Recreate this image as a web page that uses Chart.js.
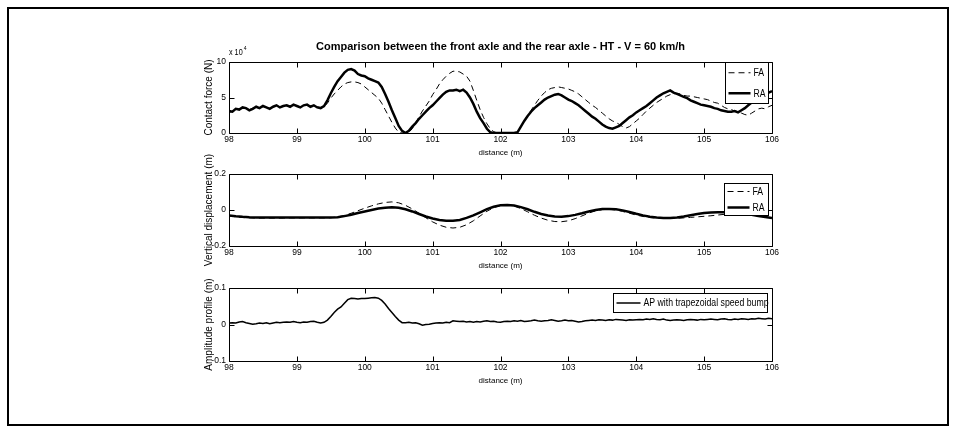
<!DOCTYPE html>
<html>
<head>
<meta charset="utf-8">
<script src="https://cdn.jsdelivr.net/npm/chart.js@4.4.1/dist/chart.umd.min.js"></script>
<style>
  html, body { margin: 0; padding: 0; background: #fff; }
  body { width: 957px; height: 434px; position: relative; overflow: hidden; }
  #frame { position: absolute; left: 7px; top: 7px; width: 942px; height: 419px; border: 2px solid #000; box-sizing: border-box; }
  canvas { position: absolute; left: 200px; }
</style>
</head>
<body>
<div id="frame"></div>
<canvas id="force" width="590" height="131" style="top:30px"></canvas>
<canvas id="disp" width="590" height="124" style="top:150px"></canvas>
<canvas id="profile" width="590" height="119" style="top:270px"></canvas>
<script>
// sampling: distance (m), one value every 0.05 m (force, profile) or 0.1 m (displacement)
const distStart = 98;
const forceStep = 0.05;
const dispStep = 0.1;

// contact force, x 10^4 N
const forceFA = [
  2.9,3.0,3.3,3.4,3.5,3.4,3.3,3.5,3.6,3.5, 3.7,3.6,3.5,3.6,3.8,3.7,3.8,3.8,3.8,3.9,
  3.8,3.7,3.8,3.9,3.8,3.8,3.7,3.6,3.7,4.2, 4.9,5.5,6.0,6.5,6.9,7.1,7.2,7.2,7.1,6.9,
  6.5,6.1,5.7,5.3,4.9,4.2,3.3,2.4,1.5,0.7, 0.1,0.0,0.0,0.1,0.6,1.4,2.3,3.1,3.8,4.5,
  5.4,6.1,6.9,7.5,8.0,8.4,8.7,8.7,8.6,8.3, 8.0,7.3,6.0,4.6,3.3,2.2,1.3,0.6,0.2,0.0,
  0.0,0.0,0.0,0.0,0.0,0.1,0.9,1.7,2.5,3.2, 3.9,4.6,5.2,5.7,6.1,6.3,6.4,6.5,6.4,6.3,
  6.2,6.0,5.8,5.5,5.1,4.7,4.3,3.9,3.6,3.2, 2.8,2.4,2.0,1.7,1.5,1.2,0.9,0.7,0.9,1.3,
  1.7,2.1,2.6,3.1,3.5,3.9,4.3,4.6,4.9,5.2, 5.4,5.5,5.6,5.5,5.3,5.2,5.2,5.1,5.0,4.9,
  4.8,4.7,4.5,4.3,4.2,3.9,3.6,3.4,3.3,3.1, 3.0,2.8,2.6,2.5,2.8,3.1,3.4,3.5,3.4,3.7,
  3.9
];
const forceRA = [
  3.1,3.0,3.4,3.3,3.6,3.5,3.2,3.4,3.7,3.5, 3.8,3.6,3.4,3.7,3.9,3.6,3.8,3.9,3.7,4.0,
  3.8,3.6,3.9,4.0,3.7,3.9,3.6,3.5,3.8,4.6, 5.6,6.5,7.3,7.9,8.5,8.9,9.0,8.8,8.3,8.1,
  8.0,7.7,7.5,7.3,7.1,6.5,5.5,4.4,3.2,2.1, 1.0,0.3,0.0,0.3,0.9,1.4,2.0,2.5,3.0,3.5,
  3.9,4.4,4.9,5.4,5.8,6.0,6.0,6.1,5.9,6.1, 5.7,5.0,4.1,3.0,2.1,1.4,0.6,0.1,0.0,0.0,
  0.0,0.0,0.0,0.0,0.0,0.1,0.9,1.7,2.4,3.0, 3.5,3.9,4.3,4.7,5.0,5.2,5.4,5.5,5.3,5.0,
  4.7,4.5,4.2,3.9,3.5,3.1,2.7,2.3,2.0,1.6, 1.2,0.9,0.7,0.6,0.8,1.0,1.4,1.8,2.2,2.5,
  2.9,3.2,3.5,3.8,4.2,4.6,5.0,5.3,5.6,5.8, 6.0,5.7,5.5,5.3,5.1,4.9,4.6,4.4,4.2,4.0,
  3.9,3.8,3.7,3.5,3.4,3.2,3.1,3.0,3.0,3.1, 2.9,3.2,3.5,3.9,4.3,4.6,5.0,5.2,5.5,5.7,
  5.9
];

// vertical displacement, m
const dispFA = [
  -0.032,-0.038,-0.042,-0.044,-0.045,-0.045,-0.045,-0.045,-0.045,-0.044,
  -0.044,-0.044,-0.044,-0.044,-0.044,-0.043,-0.038,-0.030,-0.018,-0.004,
  0.010,0.023,0.034,0.042,0.045,0.040,0.026,0.006,-0.018,-0.043,
  -0.066,-0.084,-0.096,-0.100,-0.096,-0.082,-0.060,-0.033,-0.007,0.013,
  0.025,0.028,0.022,0.008,-0.010,-0.029,-0.045,-0.057,-0.064,-0.065,
  -0.060,-0.048,-0.033,-0.017,-0.005,0.002,0.004,0.000,-0.008,-0.018,
  -0.028,-0.036,-0.042,-0.045,-0.047,-0.047,-0.046,-0.044,-0.041,-0.038,
  -0.035,-0.032,-0.028,-0.024,-0.020,-0.018,-0.020,-0.025,-0.032,-0.038,
  -0.044
];
const dispRA = [
  -0.030,-0.035,-0.038,-0.040,-0.041,-0.042,-0.042,-0.042,-0.042,-0.042,
  -0.042,-0.042,-0.042,-0.042,-0.042,-0.042,-0.040,-0.034,-0.026,-0.017,
  -0.008,0.000,0.008,0.013,0.015,0.012,0.004,-0.008,-0.022,-0.036,
  -0.047,-0.055,-0.060,-0.060,-0.055,-0.044,-0.030,-0.013,0.005,0.018,
  0.026,0.028,0.025,0.016,0.004,-0.010,-0.022,-0.031,-0.036,-0.037,
  -0.034,-0.027,-0.018,-0.008,0.000,0.005,0.006,0.004,-0.002,-0.011,
  -0.021,-0.030,-0.037,-0.042,-0.045,-0.045,-0.042,-0.036,-0.029,-0.022,
  -0.017,-0.014,-0.013,-0.013,-0.015,-0.018,-0.022,-0.027,-0.033,-0.039,
  -0.045
];

// amplitude profile, m
const profileAP = [
  0.004,0.005,0.004,0.007,0.008,0.005,0.003,0.001,0.002,0.004, 0.003,0.005,0.002,0.004,0.006,0.005,0.006,0.007,0.006,0.008,
  0.006,0.005,0.007,0.006,0.008,0.009,0.006,0.004,0.006,0.012, 0.022,0.033,0.042,0.048,0.058,0.068,0.072,0.071,0.070,0.071,
  0.071,0.072,0.073,0.074,0.072,0.066,0.056,0.044,0.033,0.022, 0.012,0.005,0.005,0.006,0.004,0.005,0.002,-0.002,0.000,0.001,
  0.003,0.004,0.005,0.004,0.006,0.005,0.010,0.009,0.008,0.009, 0.007,0.008,0.006,0.008,0.007,0.009,0.010,0.008,0.009,0.007,
  0.006,0.008,0.009,0.008,0.010,0.009,0.011,0.008,0.009,0.010, 0.012,0.010,0.009,0.010,0.011,0.013,0.011,0.009,0.010,0.012,
  0.010,0.011,0.009,0.007,0.008,0.010,0.011,0.012,0.011,0.013, 0.012,0.011,0.013,0.012,0.014,0.013,0.012,0.011,0.013,0.012,
  0.013,0.014,0.013,0.015,0.014,0.016,0.014,0.013,0.015,0.012, 0.011,0.012,0.013,0.012,0.011,0.013,0.014,0.013,0.012,0.014,
  0.013,0.014,0.015,0.014,0.013,0.015,0.016,0.014,0.013,0.015, 0.014,0.016,0.015,0.014,0.016,0.015,0.017,0.016,0.015,0.017,
  0.016
];

const chartTitle = 'Comparison between the front axle and the rear axle - HT - V = 60 km/h';

const fontFam = '"Liberation Sans", Arial, sans-serif';

function toPoints(values, step) {
  return values.map((v, i) => ({ x: +(distStart + i * step).toFixed(2), y: v }));
}

// text squeezed horizontally, MATLAB prints its labels in a condensed face
function narrowText(ctx, text, x, y, size, squeeze) {
  ctx.save();
  ctx.font = size + 'px ' + fontFam;
  ctx.textAlign = 'left';
  ctx.textBaseline = 'middle';
  ctx.translate(x, y);
  ctx.scale(squeeze, 1);
  ctx.fillText(text, 0, 0);
  const w = ctx.measureText(text).width * squeeze;
  ctx.restore();
  return w;
}

// MATLAB style box, inward ticks, framed legend inside the axes
const matlabFrame = {
  id: 'matlabFrame',
  afterDraw(chart, args, opts) {
    const { ctx, chartArea: a, scales: { x, y } } = chart;
    const L = Math.round(a.left) + 0.5, R = Math.round(a.right) + 0.5;
    const T = Math.round(a.top) + 0.5, B = Math.round(a.bottom) + 0.5;
    ctx.save();
    ctx.strokeStyle = '#000';
    ctx.lineWidth = 1;
    ctx.beginPath();
    ctx.rect(L, T, R - L, B - T);
    x.ticks.forEach(t => {
      const px = Math.round(x.getPixelForValue(t.value)) + 0.5;
      ctx.moveTo(px, B); ctx.lineTo(px, B - 5);
      ctx.moveTo(px, T); ctx.lineTo(px, T + 5);
    });
    y.ticks.forEach(t => {
      const py = Math.round(y.getPixelForValue(t.value)) + 0.5;
      ctx.moveTo(L, py); ctx.lineTo(L + 5, py);
      ctx.moveTo(R, py); ctx.lineTo(R - 5, py);
    });
    ctx.stroke();
    ctx.fillStyle = '#000';

    if (opts.title) {
      ctx.font = 'bold 11px ' + fontFam;
      ctx.textAlign = 'center';
      ctx.textBaseline = 'middle';
      ctx.fillText(opts.title, (a.left + a.right) / 2, a.top - 15);
    }
    if (opts.exponent) {
      const w = narrowText(ctx, 'x 10', a.left, a.top - 9, 8.5, 0.85);
      narrowText(ctx, opts.exponent, a.left + w + 1, a.top - 14, 6, 0.85);
    }

    const lg = opts.legend;
    if (lg) {
      const bx = Math.round(a.right - lg.right - lg.width) + 0.5;
      const by = Math.round(a.top + lg.top) + 0.5;
      ctx.fillStyle = '#fff';
      ctx.fillRect(bx, by, lg.width, lg.height);
      ctx.strokeStyle = '#000';
      ctx.lineWidth = 1;
      ctx.strokeRect(bx, by, lg.width, lg.height);
      const n = chart.data.datasets.length;
      chart.data.datasets.forEach((ds, i) => {
        const ry = by + lg.height * (i + 0.5) / n;
        ctx.save();
        ctx.strokeStyle = ds.borderColor;
        ctx.lineWidth = ds.borderWidth;
        ctx.setLineDash(ds.borderDash || []);
        ctx.beginPath();
        ctx.moveTo(bx + 3, ry);
        ctx.lineTo(bx + lg.sample, ry);
        ctx.stroke();
        ctx.restore();
        ctx.fillStyle = '#000';
        narrowText(ctx, ds.label, bx + lg.sample + 3, ry + 0.5, 10.5, 0.83);
      });
    }
    ctx.restore();
  }
};

function makeChart(id, datasets, yMin, yMax, yStep, yTitle, padTop, frameOpts) {
  return new Chart(document.getElementById(id), {
    type: 'line',
    data: { datasets },
    plugins: [matlabFrame],
    options: {
      responsive: false,
      animation: false,
      events: [],
      layout: { padding: { top: padTop, right: 18, bottom: 0, left: 0 } },
      elements: { point: { radius: 0 }, line: { tension: 0 } },
      plugins: {
        legend: { display: false },
        tooltip: { enabled: false },
        matlabFrame: frameOpts
      },
      scales: {
        x: {
          type: 'linear',
          min: 98,
          max: 106,
          grid: { display: false, drawTicks: false },
          border: { display: false },
          ticks: { stepSize: 1, padding: 1.5, color: '#000', font: { family: fontFam, size: 8.5 } },
          title: { display: true, text: 'distance (m)', color: '#000', padding: { top: 0, bottom: 3 }, font: { family: fontFam, size: 8 } },
          afterFit: s => { s.height = 28; }
        },
        y: {
          min: yMin,
          max: yMax,
          grid: { display: false, drawTicks: false },
          border: { display: false },
          ticks: {
            stepSize: yStep,
            padding: 3,
            color: '#000',
            font: { family: fontFam, size: 8.5 },
            callback: v => Number(v.toFixed(2)).toString()
          },
          title: { display: true, text: yTitle, color: '#000', padding: { top: 3, bottom: 0 }, font: { family: fontFam, size: 10 } },
          afterFit: s => { s.width = 29; }
        }
      }
    }
  });
}

const faStyle = { borderColor: '#000', borderWidth: 1, borderDash: [6, 4], order: 2 };
const raStyle = { borderColor: '#000', borderWidth: 2.5, order: 1 };

makeChart('force', [
  { label: 'FA', data: toPoints(forceFA, forceStep), ...faStyle },
  { label: 'RA', data: toPoints(forceRA, forceStep), ...raStyle }
], 0, 10, 5, 'Contact force (N)', 32, {
  title: chartTitle,
  exponent: '4',
  legend: { right: 4, top: 0, width: 43, height: 41, sample: 25 }
});

makeChart('disp', [
  { label: 'FA', data: toPoints(dispFA, dispStep), ...faStyle },
  { label: 'RA', data: toPoints(dispRA, dispStep), ...raStyle }
], -0.2, 0.2, 0.2, 'Vertical displacement (m)', 24, {
  legend: { right: 4, top: 9, width: 44, height: 32, sample: 25 }
});

makeChart('profile', [
  { label: 'AP with trapezoidal speed bump', data: toPoints(profileAP, forceStep), borderColor: '#000', borderWidth: 1.5 }
], -0.1, 0.1, 0.1, 'Amplitude profile (m)', 18, {
  legend: { right: 5, top: 5, width: 154, height: 19, sample: 27 }
});
</script>
</body>
</html>
